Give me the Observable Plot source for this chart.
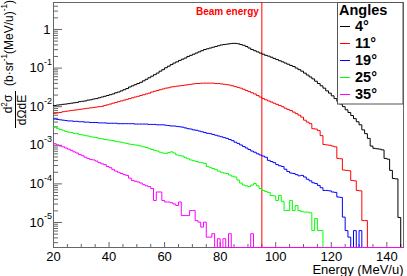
<!DOCTYPE html>
<html><head><meta charset="utf-8">
<script src="https://cdn.jsdelivr.net/npm/d3@7"></script>
<script src="https://cdn.jsdelivr.net/npm/@observablehq/plot@0.6"></script>
<style>body{margin:0;background:#fff} svg{display:block}</style>
</head><body><div id="chart"></div>
<script>
// ---- data (1 MeV/u bins, left edges 20..145) ----
const angles = ["4°", "11°", "19°", "25°", "35°"];
const colors = ["#000000", "#ff0000", "#0000ff", "#00ff00", "#ff00ff"];
const binLow = 20, binHigh = 146;
const beamEnergy = 95;
const xTicks = [20, 40, 60, 80, 100, 120, 140];
const yTickExps = [0, -1, -2, -3, -4, -5];

const s4 = [1.07e-2,1.10e-2,1.12e-2,1.15e-2,1.17e-2,1.20e-2,1.23e-2,1.26e-2,1.29e-2,1.35e-2,
1.38e-2,1.41e-2,1.48e-2,1.51e-2,1.58e-2,1.62e-2,1.70e-2,1.78e-2,1.86e-2,1.95e-2,
2.04e-2,2.14e-2,2.29e-2,2.40e-2,2.57e-2,2.75e-2,2.95e-2,3.24e-2,3.47e-2,3.72e-2,
3.98e-2,4.27e-2,4.68e-2,5.13e-2,5.62e-2,6.17e-2,6.76e-2,7.41e-2,8.32e-2,9.12e-2,
0.102,0.112,0.123,0.135,0.145,0.158,0.170,0.182,0.200,0.214,
0.229,0.245,0.263,0.282,0.302,0.316,0.331,0.347,0.363,0.380,
0.398,0.407,0.417,0.427,0.437,0.437,0.427,0.407,0.389,0.363,
0.331,0.302,0.282,0.263,0.245,0.229,0.214,0.204,0.191,0.178,
0.166,0.155,0.145,0.135,0.126,0.117,0.110,0.100,9.12e-2,8.32e-2,
7.41e-2,6.61e-2,5.89e-2,5.25e-2,4.57e-2,3.98e-2,3.47e-2,3.02e-2,2.57e-2,2.24e-2,
1.91e-2,1.62e-2,1.38e-2,1.17e-2,1.00e-2,8.32e-3,7.08e-3,5.89e-3,4.90e-3,4.07e-3,
3.39e-3,2.51e-3,2.00e-3,1.51e-3,9.55e-4,8.32e-4,8.13e-4,7.94e-4,7.59e-4,4.57e-4,
4.37e-4,2.24e-4,1.38e-4,1.35e-4,1.35e-5,0];

const s11 = [6.76e-3,6.92e-3,7.08e-3,7.41e-3,7.59e-3,7.76e-3,7.94e-3,8.13e-3,8.32e-3,8.51e-3,
8.71e-3,8.91e-3,9.12e-3,9.33e-3,9.55e-3,9.77e-3,1.00e-2,1.02e-2,1.07e-2,1.12e-2,
1.17e-2,1.23e-2,1.29e-2,1.35e-2,1.41e-2,1.48e-2,1.55e-2,1.62e-2,1.70e-2,1.78e-2,
1.86e-2,1.95e-2,2.04e-2,2.14e-2,2.24e-2,2.40e-2,2.51e-2,2.63e-2,2.75e-2,2.88e-2,
3.02e-2,3.09e-2,3.24e-2,3.31e-2,3.39e-2,3.47e-2,3.55e-2,3.63e-2,3.72e-2,3.80e-2,
3.89e-2,3.98e-2,3.98e-2,4.07e-2,4.07e-2,4.07e-2,4.07e-2,4.07e-2,3.98e-2,3.98e-2,
3.89e-2,3.80e-2,3.72e-2,3.63e-2,3.47e-2,3.31e-2,3.16e-2,3.02e-2,2.82e-2,2.63e-2,
2.45e-2,2.29e-2,2.14e-2,1.95e-2,1.78e-2,1.62e-2,1.51e-2,1.41e-2,1.32e-2,1.23e-2,
1.15e-2,1.07e-2,1.00e-2,9.12e-3,8.51e-3,7.94e-3,7.24e-3,6.61e-3,6.03e-3,5.37e-3,
4.47e-3,3.98e-3,3.63e-3,2.69e-3,2.63e-3,2.40e-3,1.78e-3,1.05e-3,1.02e-3,1.00e-3,
9.55e-4,9.12e-4,4.57e-4,4.47e-4,2.29e-4,2.24e-4,2.19e-4,1.23e-4,1.20e-4,6.76e-5,
6.61e-5,1.12e-5,1.12e-5,0,0,0,0,0,0,0,
0,0,0,0,0,0];

const s19 = [4.79e-3,4.68e-3,4.57e-3,4.47e-3,4.37e-3,4.27e-3,4.27e-3,4.17e-3,4.17e-3,4.07e-3,
4.07e-3,3.98e-3,3.98e-3,3.89e-3,3.89e-3,3.89e-3,3.80e-3,3.80e-3,3.80e-3,3.72e-3,
3.72e-3,3.72e-3,3.72e-3,3.63e-3,3.63e-3,3.63e-3,3.63e-3,3.63e-3,3.63e-3,3.55e-3,
3.55e-3,3.55e-3,3.55e-3,3.55e-3,3.47e-3,3.47e-3,3.47e-3,3.39e-3,3.39e-3,3.39e-3,
3.31e-3,3.24e-3,3.16e-3,3.16e-3,3.09e-3,3.02e-3,2.95e-3,2.82e-3,2.69e-3,2.63e-3,
2.51e-3,2.45e-3,2.34e-3,2.24e-3,2.14e-3,2.04e-3,2.00e-3,1.91e-3,1.82e-3,1.74e-3,
1.66e-3,1.58e-3,1.51e-3,1.41e-3,1.32e-3,1.20e-3,1.12e-3,1.02e-3,9.33e-4,8.51e-4,
7.76e-4,7.08e-4,6.61e-4,6.03e-4,5.62e-4,5.25e-4,4.90e-4,4.07e-4,3.80e-4,3.55e-4,
3.16e-4,2.95e-4,2.82e-4,2.40e-4,2.09e-4,1.91e-4,1.86e-4,1.74e-4,1.62e-4,1.66e-4,
1.51e-4,1.32e-4,1.20e-4,1.07e-4,1.02e-4,9.12e-5,7.94e-5,6.76e-5,6.76e-5,6.61e-5,
6.17e-5,6.03e-5,4.57e-5,4.47e-5,1.38e-5,6.17e-6,4.17e-6,0,6.17e-6,0,
6.17e-6,0,0,0,0,0,0,0,0,0,
0,0,0,0,0,0];

const s25 = [2.95e-3,2.75e-3,2.57e-3,2.45e-3,2.29e-3,2.19e-3,2.14e-3,2.04e-3,2.00e-3,1.91e-3,
1.86e-3,1.78e-3,1.74e-3,1.66e-3,1.62e-3,1.58e-3,1.51e-3,1.48e-3,1.41e-3,1.38e-3,
1.35e-3,1.32e-3,1.26e-3,1.23e-3,1.20e-3,1.15e-3,1.12e-3,1.07e-3,1.05e-3,1.02e-3,
1.00e-3,9.55e-4,9.12e-4,8.71e-4,8.32e-4,7.76e-4,7.41e-4,7.08e-4,6.61e-4,6.31e-4,
6.17e-4,6.46e-4,6.76e-4,6.31e-4,5.62e-4,5.37e-4,5.25e-4,4.79e-4,4.47e-4,4.17e-4,
3.98e-4,3.80e-4,3.63e-4,3.55e-4,3.39e-4,2.82e-4,2.63e-4,2.51e-4,2.34e-4,2.14e-4,
2.00e-4,1.91e-4,1.86e-4,1.70e-4,1.58e-4,1.51e-4,1.26e-4,1.05e-4,9.33e-5,8.91e-5,
8.51e-5,9.33e-5,1.02e-4,8.91e-5,7.59e-5,6.76e-5,6.31e-5,6.03e-5,5.01e-5,4.90e-5,
3.72e-5,5.01e-5,3.55e-5,2.04e-5,2.04e-5,3.72e-5,2.04e-5,2.75e-5,2.04e-5,1.91e-5,
1.86e-5,1.86e-5,1.78e-5,6.17e-6,1.26e-5,6.17e-6,6.17e-6,0,0,0,
0,0,0,0,0,0,0,0,0,0,
0,0,0,0,0,0,0,0,0,0,
0,0,0,0,0,0];

const s35 = [1.10e-3,1.02e-3,9.55e-4,9.12e-4,8.51e-4,7.94e-4,7.41e-4,6.76e-4,6.31e-4,5.75e-4,
5.37e-4,4.90e-4,4.57e-4,4.27e-4,4.17e-4,3.89e-4,3.55e-4,3.31e-4,3.16e-4,2.82e-4,
2.63e-4,2.34e-4,2.14e-4,2.00e-4,1.86e-4,1.74e-4,1.66e-4,1.41e-4,1.23e-4,1.17e-4,
1.12e-4,1.05e-4,9.55e-5,8.91e-5,8.51e-5,7.59e-5,3.72e-5,6.17e-5,6.17e-5,3.72e-5,
3.39e-5,3.39e-5,3.24e-5,3.02e-5,2.75e-5,3.39e-5,1.51e-5,1.51e-5,1.51e-5,2.04e-5,
2.04e-5,1.12e-5,1.02e-5,7.59e-6,1.02e-5,4.17e-6,4.17e-6,5.13e-6,0,3.80e-6,
0,3.80e-6,0,5.13e-6,0,0,0,0,0,0,
0,5.13e-6,0,0,0,0,0,0,0,0,
0,0,0,0,0,0,0,0,0,0,
0,0,0,0,0,0,0,0,0,0,
0,0,0,0,0,0,0,0,0,0,
0,0,0,0,0,0,0,0,0,0,
0,0,0,0,0,0];

const series = [s4, s11, s19, s25, s35];

// ---- layout ----
const W = 407, H = 276, mL = 53, mR = 4, mT = 2, mB = 29;
const yMin = 2.25e-6, yMax = 5;
const innerW = W - mL - mR, innerH = H - mT - mB;
const font = "'Liberation Sans', Arial, Helvetica, sans-serif";

// rows for step histograms (zero bins drawn on the frame bottom, as ROOT does in log scale)
const rows = series.map((vals, k) => {
  const r = vals.map((v, i) => ({E: binLow + i, v: v > 0 ? v : yMin, angle: angles[k]}));
  r.push({E: binHigh, v: r[r.length - 1].v, angle: angles[k]});
  return r;
});

// tick positions
const yMajor = yTickExps.map(e => Math.pow(10, e));
const yMinor = [];
for (let e = -6; e <= 0; e++) for (let m = 2; m <= 9; m++) {
  const v = m * Math.pow(10, e);
  if (v > yMin && v < yMax * 0.99) yMinor.push(v);
}
const xMinor = d3.range(25, binHigh, 5).filter(v => v % 20 !== 0);

const chart = Plot.plot({
  width: W, height: H,
  marginLeft: mL, marginRight: mR, marginTop: mT, marginBottom: mB,
  style: {fontFamily: font, background: "#fff", color: "#000", overflow: "visible"},
  x: {domain: [binLow, binHigh], axis: null},
  y: {type: "log", domain: [yMin, yMax], axis: null},
  marks: [
    Plot.frame({stroke: "#666"}),
    Plot.tickY(yMajor, {y: d => d, stroke: "#666", insetRight: innerW - 9}),
    Plot.tickY(yMinor, {y: d => d, stroke: "#666", insetRight: innerW - 5}),
    Plot.tickX(xTicks, {x: d => d, stroke: "#666", insetTop: innerH - 5}),
    Plot.tickX(xMinor, {x: d => d, stroke: "#666", insetTop: innerH - 3}),
    Plot.ruleX([beamEnergy], {x: d => d, stroke: "#ff0000", strokeWidth: 1}),
    ...rows.map((r, k) => Plot.line(r, {x: "E", y: "v", stroke: colors[k], strokeWidth: 1, curve: "step-after"})),
    Plot.text([beamEnergy], {x: d => d, frameAnchor: "top", text: () => "Beam energy", textAnchor: "end",
      dx: -3, dy: 9.5, lineAnchor: "middle", fill: "#ff0000", fontWeight: "bold", fontSize: 10}),
    // y tick labels
    Plot.text(yTickExps.filter(e => e !== 0), {y: e => Math.pow(10, e), frameAnchor: "left", text: () => "10",
      textAnchor: "end", dx: -9.5, lineAnchor: "middle", fontSize: 13, fill: "#000"}),
    Plot.text(yTickExps.filter(e => e !== 0), {y: e => Math.pow(10, e), frameAnchor: "left", text: e => String(e),
      textAnchor: "start", dx: -9.5, dy: -6, lineAnchor: "middle", fontSize: 9, fill: "#000"}),
    Plot.text(yTickExps.filter(e => e === 0), {y: e => Math.pow(10, e), frameAnchor: "left", text: () => "1",
      textAnchor: "end", dx: -3, lineAnchor: "middle", fontSize: 13, fill: "#000"}),
    // x tick labels
    Plot.text(xTicks, {x: d => d, frameAnchor: "bottom", text: d => String(d), dy: 9, lineAnchor: "middle", fontSize: 13, fill: "#000"}),
    Plot.text(["Energy (MeV/u)"], {frameAnchor: "bottom-right", text: d => d, textAnchor: "end", dy: 22.5, lineAnchor: "middle", fontSize: 13, fill: "#000"})
  ]
});
document.getElementById("chart").appendChild(chart);

// ---- y-axis title: d²σ/dΩdE (b·sr⁻¹(MeV/u)⁻¹) ----
const svg = d3.select(chart);
const g = svg.append("g").attr("font-family", font).attr("fill", "#000");
function rotText(x, y, size, parts) {
  const t = g.append("text").attr("transform", `translate(${x},${y}) rotate(-90)`)
    .attr("text-anchor", "middle").attr("font-size", size);
  parts.forEach(p => {
    const s = t.append("tspan").text(p.t);
    if (p.sup) s.attr("font-size", size * 0.68).attr("dy", -size * 0.42);
    if (p.back) s.attr("dy", size * 0.42);
  });
}
rotText(12.5, 43, 12, [{t: "(b·sr"}, {t: "-1", sup: true}, {t: "(MeV/u)", back: true}, {t: "-1", sup: true}, {t: ")", back: true}]);
rotText(12, 104, 12, [{t: "d"}, {t: "2", sup: true}, {t: "σ", back: true}]);
rotText(26, 110, 12, [{t: "dΩdE"}]);
g.append("line").attr("x1", 15.5).attr("x2", 15.5).attr("y1", 91).attr("y2", 128).attr("stroke", "#000").attr("stroke-width", 1);

// ---- legend ----
const lg = svg.append("g").attr("font-family", font).attr("text-anchor", "start").attr("fill", "#000");
lg.append("rect").attr("x", 337.5).attr("y", 2.5).attr("width", 65.5).attr("height", 101.5)
  .attr("fill", "#fff").attr("stroke", "#555").attr("stroke-width", 1);
lg.append("text").attr("x", 339).attr("y", 14.5).attr("text-anchor", "start")
  .attr("font-size", 14.5).attr("font-weight", "bold").text("Angles");
angles.forEach((a, k) => {
  const base = 31 + 17 * k;
  lg.append("line").attr("x1", 340).attr("x2", 350).attr("y1", base - 4.5).attr("y2", base - 4.5)
    .attr("stroke", colors[k]).attr("stroke-width", 1);
  lg.append("text").attr("x", 355).attr("y", base).attr("text-anchor", "start")
    .attr("font-size", 14.5).attr("font-weight", "bold").text(a);
});
</script>
</body></html>
